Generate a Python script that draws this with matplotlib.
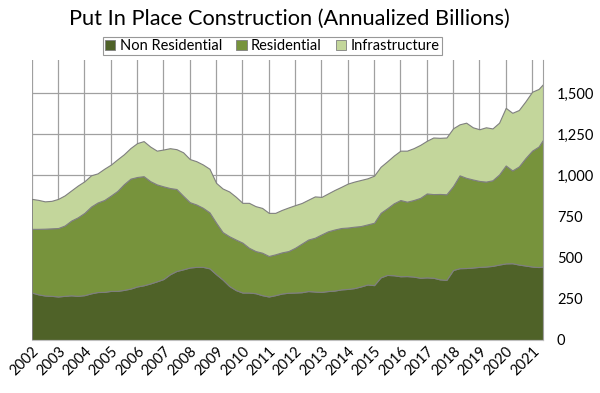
import numpy as np
import pandas as pd
import matplotlib
matplotlib.use("Agg")
import matplotlib.pyplot as plt
import matplotlib.dates as mdates
from matplotlib.ticker import FuncFormatter, MultipleLocator

plt.rcParams['font.family'] = ['Lato', 'DejaVu Sans']

#================================================================================================
# DATA (quarterly readings, annualized billions)
#================================================================================================
dates = list(pd.date_range("2002-01-01", "2021-04-01", freq="QS")) + [pd.Timestamp("2021-06-01")]

non_residential = [288, 277, 270, 268, 264, 268, 271, 268, 272, 283, 291, 292,
                   298, 298, 304, 312, 325, 332, 343, 356, 370, 399, 419, 429,
                   440, 444, 444, 435, 399, 367, 328, 303, 288, 288, 284, 272,
                   264, 272, 282, 287, 288, 290, 297, 294, 292, 297, 300, 307,
                   310, 315, 325, 337, 333, 380, 395, 393, 387, 388, 385, 378,
                   380, 378, 368, 365, 425, 436, 437, 440, 444, 446, 450, 458,
                   465, 466, 458, 452, 446, 443, 446]

residential = [387, 398, 406, 410, 416, 427, 454, 477, 500, 527, 544, 558,
               579, 607, 642, 668, 665, 663, 622, 589, 563, 524, 498, 447,
               397, 379, 359, 340, 313, 288, 302, 307, 303, 272, 256, 258,
               246, 248, 250, 253, 272, 295, 313, 327, 349, 363, 371, 373,
               373, 373, 367, 365, 379, 392, 405, 437, 463, 452, 465, 485,
               510, 508, 519, 520, 510, 564, 548, 535, 522, 516, 520, 547,
               595, 564, 596, 653, 704, 732, 770]

infrastructure = [182, 176, 166, 167, 177, 183, 183, 193, 192, 190, 177, 190,
                  188, 192, 182, 186, 206, 213, 210, 205, 224, 242, 242, 264,
                  262, 263, 263, 265, 242, 265, 272, 260, 242, 273, 273, 272,
                  262, 252, 258, 265, 259, 247, 242, 251, 228, 230, 240, 250,
                  267, 274, 280, 280, 286, 280, 285, 290, 300, 310, 315, 322,
                  320, 344, 341, 345, 351, 310, 335, 317, 314, 330, 315, 315,
                  350, 350, 343, 345, 358, 350, 338]

labels = ["Non Residential", "Residential", "Infrastructure"]
colors = ["#4f6228", "#77933c", "#c3d69b"]

#================================================================================================
# PLOT
#================================================================================================
fig = plt.figure(figsize=(6, 3.93), dpi=100)
ax = fig.add_axes([0.053, 0.135, 0.852, 0.712])

ax.stackplot(dates, non_residential, residential, infrastructure,
             labels=labels, colors=colors, edgecolor="#7f7f7f", linewidth=0.8)

ax.set_xlim(dates[0], dates[-1])
ax.set_ylim(0, 1700)

ax.yaxis.tick_right()
ax.yaxis.set_major_locator(MultipleLocator(250))
ax.yaxis.set_major_formatter(FuncFormatter(lambda v, p: f"{int(v):,}" if v <= 1500 else ""))
ax.xaxis.set_major_locator(mdates.YearLocator())
ax.xaxis.set_major_formatter(mdates.DateFormatter("%Y"))

ax.grid(True, color="#a0a0a0", linewidth=0.9)
ax.set_axisbelow(True)
ax.tick_params(axis="both", length=0, labelsize=10.5, colors="black")
ax.tick_params(axis="y", pad=10)
ax.tick_params(axis="x", pad=3)
for lab in ax.get_xticklabels():
    lab.set_rotation(45)
    lab.set_ha("right")
    lab.set_rotation_mode("anchor")

ax.spines["top"].set_visible(False)
ax.spines["left"].set_visible(False)
ax.spines["right"].set_color("#a0a0a0")
ax.spines["bottom"].set_color("#bfbfbf")

fig.text(0.482, 0.953, "Put In Place Construction (Annualized Billions)", fontsize=15.7,
         ha="center", va="center")
leg = fig.legend(loc="upper center", bbox_to_anchor=(0.454, 0.925), ncol=3, fontsize=10.5,
                 frameon=True, fancybox=False, edgecolor="#7f7f7f", handlelength=0.7,
                 handleheight=0.7, handletextpad=0.3, columnspacing=1.0, borderpad=0.15)
leg.get_frame().set_linewidth(0.8)
for h in leg.legend_handles:
    h.set_edgecolor("#7f7f7f")
    h.set_linewidth(0.6)

fig.savefig("out.png", dpi=100)
